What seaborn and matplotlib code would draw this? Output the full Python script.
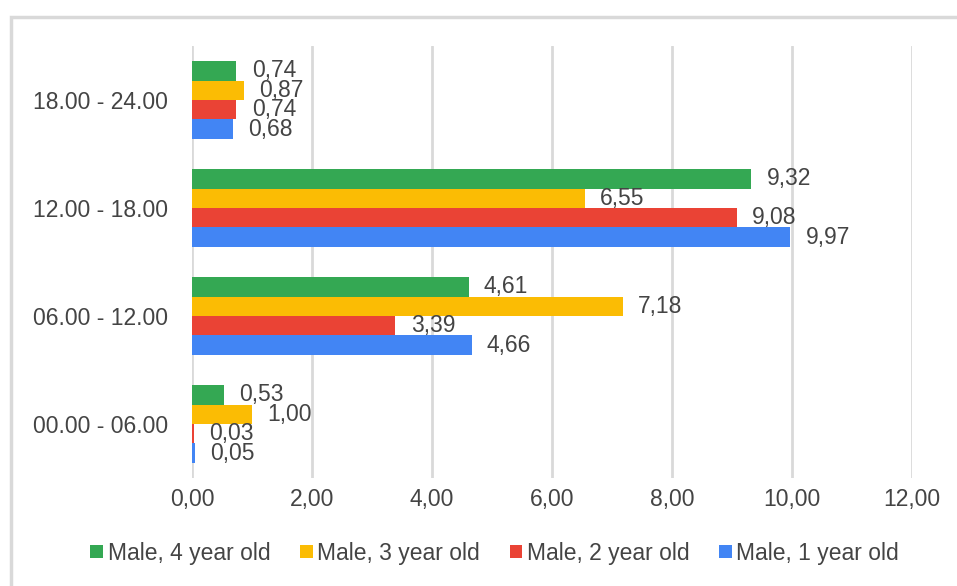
import pandas as pd
import matplotlib
matplotlib.use("Agg")
import matplotlib.pyplot as plt
import seaborn as sns
from matplotlib.patches import Rectangle

# data
periods = ["18.00 - 24.00", "12.00 - 18.00", "06.00 - 12.00", "00.00 - 06.00"]
series = ["Male, 4 year old", "Male, 3 year old", "Male, 2 year old", "Male, 1 year old"]
male_4yr = [0.74, 9.32, 4.61, 0.53]
male_3yr = [0.87, 6.55, 7.18, 1.00]
male_2yr = [0.74, 9.08, 3.39, 0.03]
male_1yr = [0.68, 9.97, 4.66, 0.05]
x_ticks = [0, 2, 4, 6, 8, 10, 12]

colors = ["#34A853", "#FBBC04", "#EA4335", "#4285F4"]
text_color = "#444444"
grid_color = "#d9d9d9"

df = pd.DataFrame(
    dict(
        period=periods * 4,
        series=[s for s in series for _ in periods],
        value=male_4yr + male_3yr + male_2yr + male_1yr,
    )
)

sns.set_style("white")
plt.rcParams["font.family"] = ["Liberation Sans", "DejaVu Sans"]

fig = plt.figure(figsize=(9.57, 5.86), dpi=100)
ax = fig.add_axes([0.2006, 0.1843, 0.7524, 0.7372])

sns.barplot(
    data=df,
    x="value",
    y="period",
    hue="series",
    order=periods,
    hue_order=series,
    palette=colors,
    orient="h",
    width=0.72,
    saturation=1,
    linewidth=0,
    ax=ax,
)

# data labels with comma decimals
for container in ax.containers:
    labels = [f"{v:.2f}".replace(".", ",") for v in container.datavalues]
    ax.bar_label(container, labels=labels, padding=11, fontsize=16.5, color=text_color)

ax.set_xlim(0, 12)
ax.set_xticks(x_ticks)
ax.set_xticklabels([f"{t:.2f}".replace(".", ",") for t in x_ticks])
ax.tick_params(axis="both", length=0, labelsize=16.5, labelcolor=text_color)
ax.tick_params(axis="x", pad=7)
ax.tick_params(axis="y", pad=17)
ax.set_xlabel("")
ax.set_ylabel("")
ax.grid(axis="x", color=grid_color, linewidth=2)
ax.set_axisbelow(True)
for sp in ax.spines.values():
    sp.set_visible(False)

handles, labels = ax.get_legend_handles_labels()
ax.legend_.remove()
fig.legend(
    handles,
    labels,
    loc="center",
    bbox_to_anchor=(0.517, 0.056),
    ncol=4,
    frameon=False,
    fontsize=16.5,
    labelcolor=text_color,
    handlelength=0.55,
    handleheight=0.55,
    handletextpad=0.2,
    columnspacing=1.3,
)

# light border around the chart area
fig.patches.append(
    Rectangle(
        (11 / 957, -0.1),
        1.2,
        1 - 17 / 586 + 0.1,
        transform=fig.transFigure,
        fill=False,
        edgecolor=grid_color,
        linewidth=2.5,
    )
)

fig.savefig("out.png", dpi=100)
